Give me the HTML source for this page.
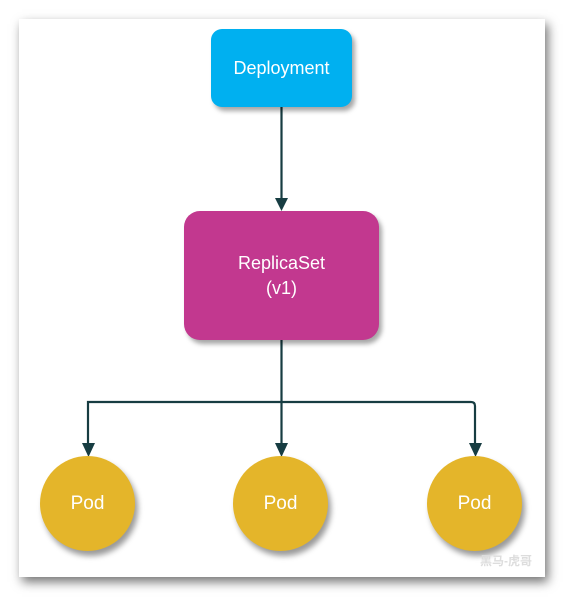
<!DOCTYPE html>
<html><head><style>
body{margin:0;width:565px;height:603px;background:#fff;position:relative;overflow:hidden;font-family:"Liberation Sans","Noto Sans CJK SC",sans-serif}
.card{position:absolute;left:19px;top:19px;width:526px;height:558px;background:#fff;box-shadow:3px 5px 10px rgba(0,0,0,.55)}
.box{position:absolute;color:#fff;display:flex;align-items:center;justify-content:center;text-align:center;box-shadow:3px 4px 5px rgba(0,0,0,.35)}
.pod{position:absolute;width:95px;height:95px;border-radius:50%;background:#e4b52a;color:#fff;font-size:19px;display:flex;align-items:center;justify-content:center;box-shadow:3px 5px 6px rgba(0,0,0,.4)}
</style></head><body>
<div class="card"></div>
<svg style="position:absolute;left:0;top:0" width="565" height="603">
<g stroke="#173d42" stroke-width="2.2" fill="none">
<line x1="281.5" y1="107" x2="281.5" y2="200"/>
<line x1="281.5" y1="340" x2="281.5" y2="445"/>
<path d="M88,445 V402 H471 Q475,402 475,406 V445"/>
</g>
<g fill="#173d42">
<polygon points="275,198 288,198 281.5,211"/>
<polygon points="82,443 95,443 88.5,457"/>
<polygon points="275,443 288,443 281.5,457"/>
<polygon points="469,443 482,443 475.5,457"/>
</g>
</svg>
<div class="box" style="left:211px;top:29px;width:141px;height:78px;background:#00b0f0;border-radius:11px;font-size:18px">Deployment</div>
<div class="box" style="left:184px;top:211px;width:195px;height:129px;background:#c2388f;border-radius:16px;font-size:18px;line-height:25px">ReplicaSet<br>(v1)</div>
<div class="pod" style="left:40px;top:456px">Pod</div>
<div class="pod" style="left:233px;top:456px">Pod</div>
<div class="pod" style="left:427px;top:456px">Pod</div>
<div style="position:absolute;left:480px;top:552px;font-size:12px;color:#ddd;font-weight:bold">黑马-虎哥</div>
</body></html>
